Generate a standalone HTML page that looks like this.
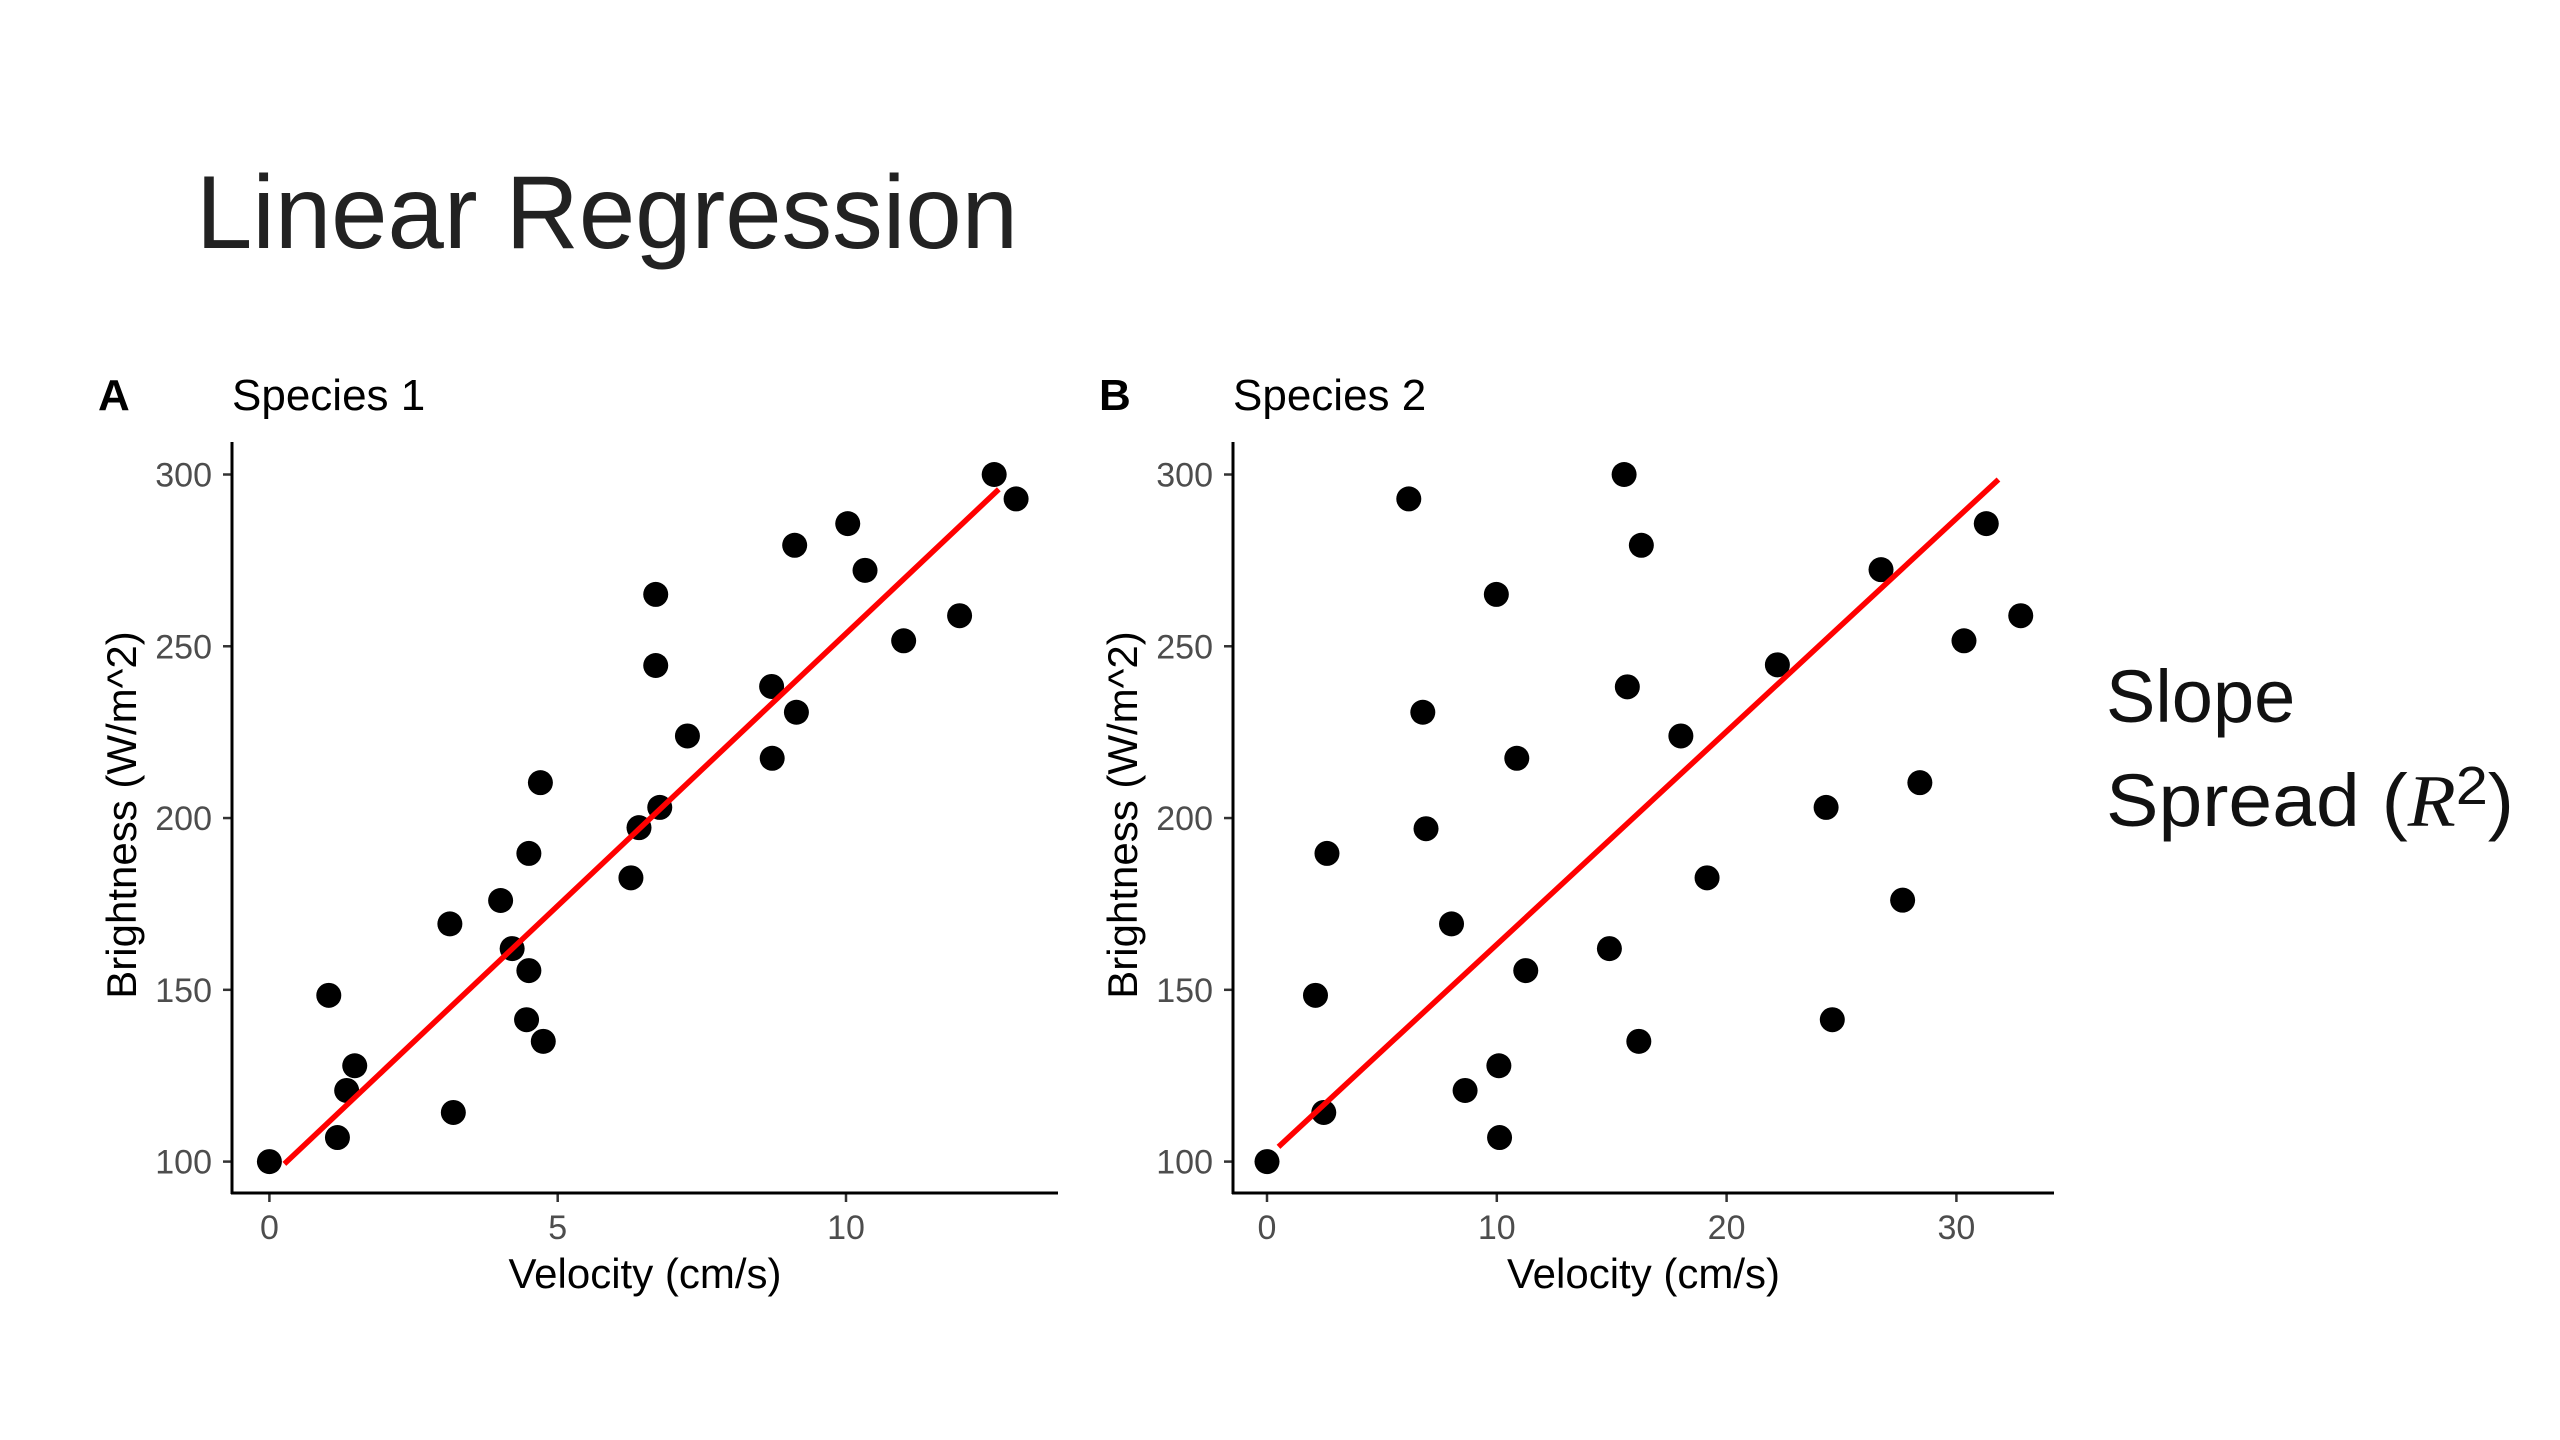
<!DOCTYPE html>
<html><head><meta charset="utf-8"><style>
html,body{margin:0;padding:0;background:#fff;}
svg{display:block;font-family:"Liberation Sans",sans-serif;}
</style></head><body>
<svg id="s" width="2560" height="1440" viewBox="0 0 2560 1440">
<text x="196" y="248" font-size="104" fill="#222" font-weight="300" textLength="822" lengthAdjust="spacingAndGlyphs">Linear Regression</text>
<text x="2106" y="722" font-size="74" fill="#111">Slope</text>
<text x="2106" y="826" font-size="74" fill="#111" textLength="408" lengthAdjust="spacingAndGlyphs">Spread (<tspan font-family="Liberation Serif" font-style="italic">R</tspan><tspan font-size="54" dy="-22">2</tspan><tspan dy="22">)</tspan></text>
<g id="pa"></g>
<g id="pb"></g>
</svg>
<script>
const ns="http://www.w3.org/2000/svg";
// Species 1
const xA=[0,1.03,1.18,1.34,1.48,3.13,3.19,4.01,4.21,4.5,4.5,4.46,4.75,4.7,6.27,6.41,6.77,6.7,6.7,7.25,8.71,8.72,9.14,9.11,10.03,10.33,11.0,11.97,12.57,12.95];
const yA=[100,148.4,107,120.7,127.9,169.2,114.3,176,162,189.7,155.6,141.3,135,210.3,182.6,197.2,203.1,244.4,265.1,223.9,238.3,217.4,230.8,279.4,285.7,272.1,251.6,258.9,300,292.9];
const fitA=[95.2,15.85];
const fitRangeA=[0.26,12.65];
const xTicksA=[0,5,10];
// Species 2
const xB=[0,2.11,2.61,2.47,6.17,6.78,6.92,8.03,8.62,9.98,10.09,10.12,10.87,11.26,14.9,15.54,15.68,16.18,16.29,18.01,19.15,22.21,24.33,24.6,26.72,27.66,28.41,30.33,31.3,32.8];
const yB=[100,148.4,189.7,114.3,292.9,230.8,196.9,169.2,120.7,265.1,127.9,107,217.4,155.6,162,300,238.2,135,279.4,223.9,182.6,244.6,203.1,141.3,272.3,176.1,210.3,251.6,285.7,258.9];
const fitB=[101.2,6.2];
const fitRangeB=[0.5,31.83];
const xTicksB=[0,10,20,30];
const yTicks=[100,150,200,250,300];

function el(p,tag,attrs,txt){const e=document.createElementNS(ns,tag);for(const k in attrs)e.setAttribute(k,attrs[k]);if(txt!==undefined)e.textContent=txt;p.appendChild(e);return e;}

function panel(g,ox,x0px,xPerUnit,right,xs,ys,fit,range,xt,letter,title){
  const X=v=>x0px+v*xPerUnit;
  const Y=v=>1161.6-(v-100)*3.4355;
  const AX=1193;
  let t;
  t=el(g,"text",{x:ox-134,y:410,"font-size":44,"font-weight":"bold",fill:"#000"},letter);
  
  
  t=el(g,"text",{x:ox,y:410,"font-size":44,fill:"#000"},title);
  
  
  yTicks.forEach(v=>{
    const l=el(g,"line",{x1:ox-9,x2:ox,y1:Y(v),y2:Y(v),stroke:"#333","stroke-width":2.5});
    
    
    const tt=el(g,"text",{x:ox-20,y:Y(v)+12,"font-size":34,fill:"#4d4d4d","text-anchor":"end"},v);
    
    
  });
  xt.forEach(v=>{
    const l=el(g,"line",{x1:X(v),x2:X(v),y1:AX,y2:AX+9,stroke:"#333","stroke-width":2.5});
    
    
    const tt=el(g,"text",{x:X(v),y:AX+46,"font-size":34,fill:"#4d4d4d","text-anchor":"middle"},v);
    
    
  });
  let a=el(g,"line",{x1:ox,x2:ox,y1:442,y2:AX+1,stroke:"#000","stroke-width":3});
  
  
  a=el(g,"line",{x1:ox-1,x2:right,y1:AX,y2:AX,stroke:"#000","stroke-width":3});
  
  
  t=el(g,"text",{x:(ox+right)/2,y:1288,"font-size":42,fill:"#000","text-anchor":"middle"},"Velocity (cm/s)");
  
  
  t=el(g,"text",{x:0,y:0,"font-size":42,fill:"#000","text-anchor":"middle",transform:`translate(${ox-96},815) rotate(-90)`},"Brightness (W/m^2)");
  
  
  xs.forEach((v,i)=>{
    const c=el(g,"circle",{cx:X(v),cy:Y(ys[i]),r:12.5,fill:"#000"});
    
    
  });
  const ln=el(g,"line",{x1:X(range[0]),y1:Y(fit[0]+fit[1]*range[0]),x2:X(range[1]),y2:Y(fit[0]+fit[1]*range[1]),stroke:"#ff0000","stroke-width":5.5});
  
  
}
panel(document.getElementById("pa"),232,269.4,57.66,1058,xA,yA,fitA,fitRangeA,xTicksA,"A","Species 1");
panel(document.getElementById("pb"),1233,1267,22.98,2054,xB,yB,fitB,fitRangeB,xTicksB,"B","Species 2");
</script>
</body></html>
